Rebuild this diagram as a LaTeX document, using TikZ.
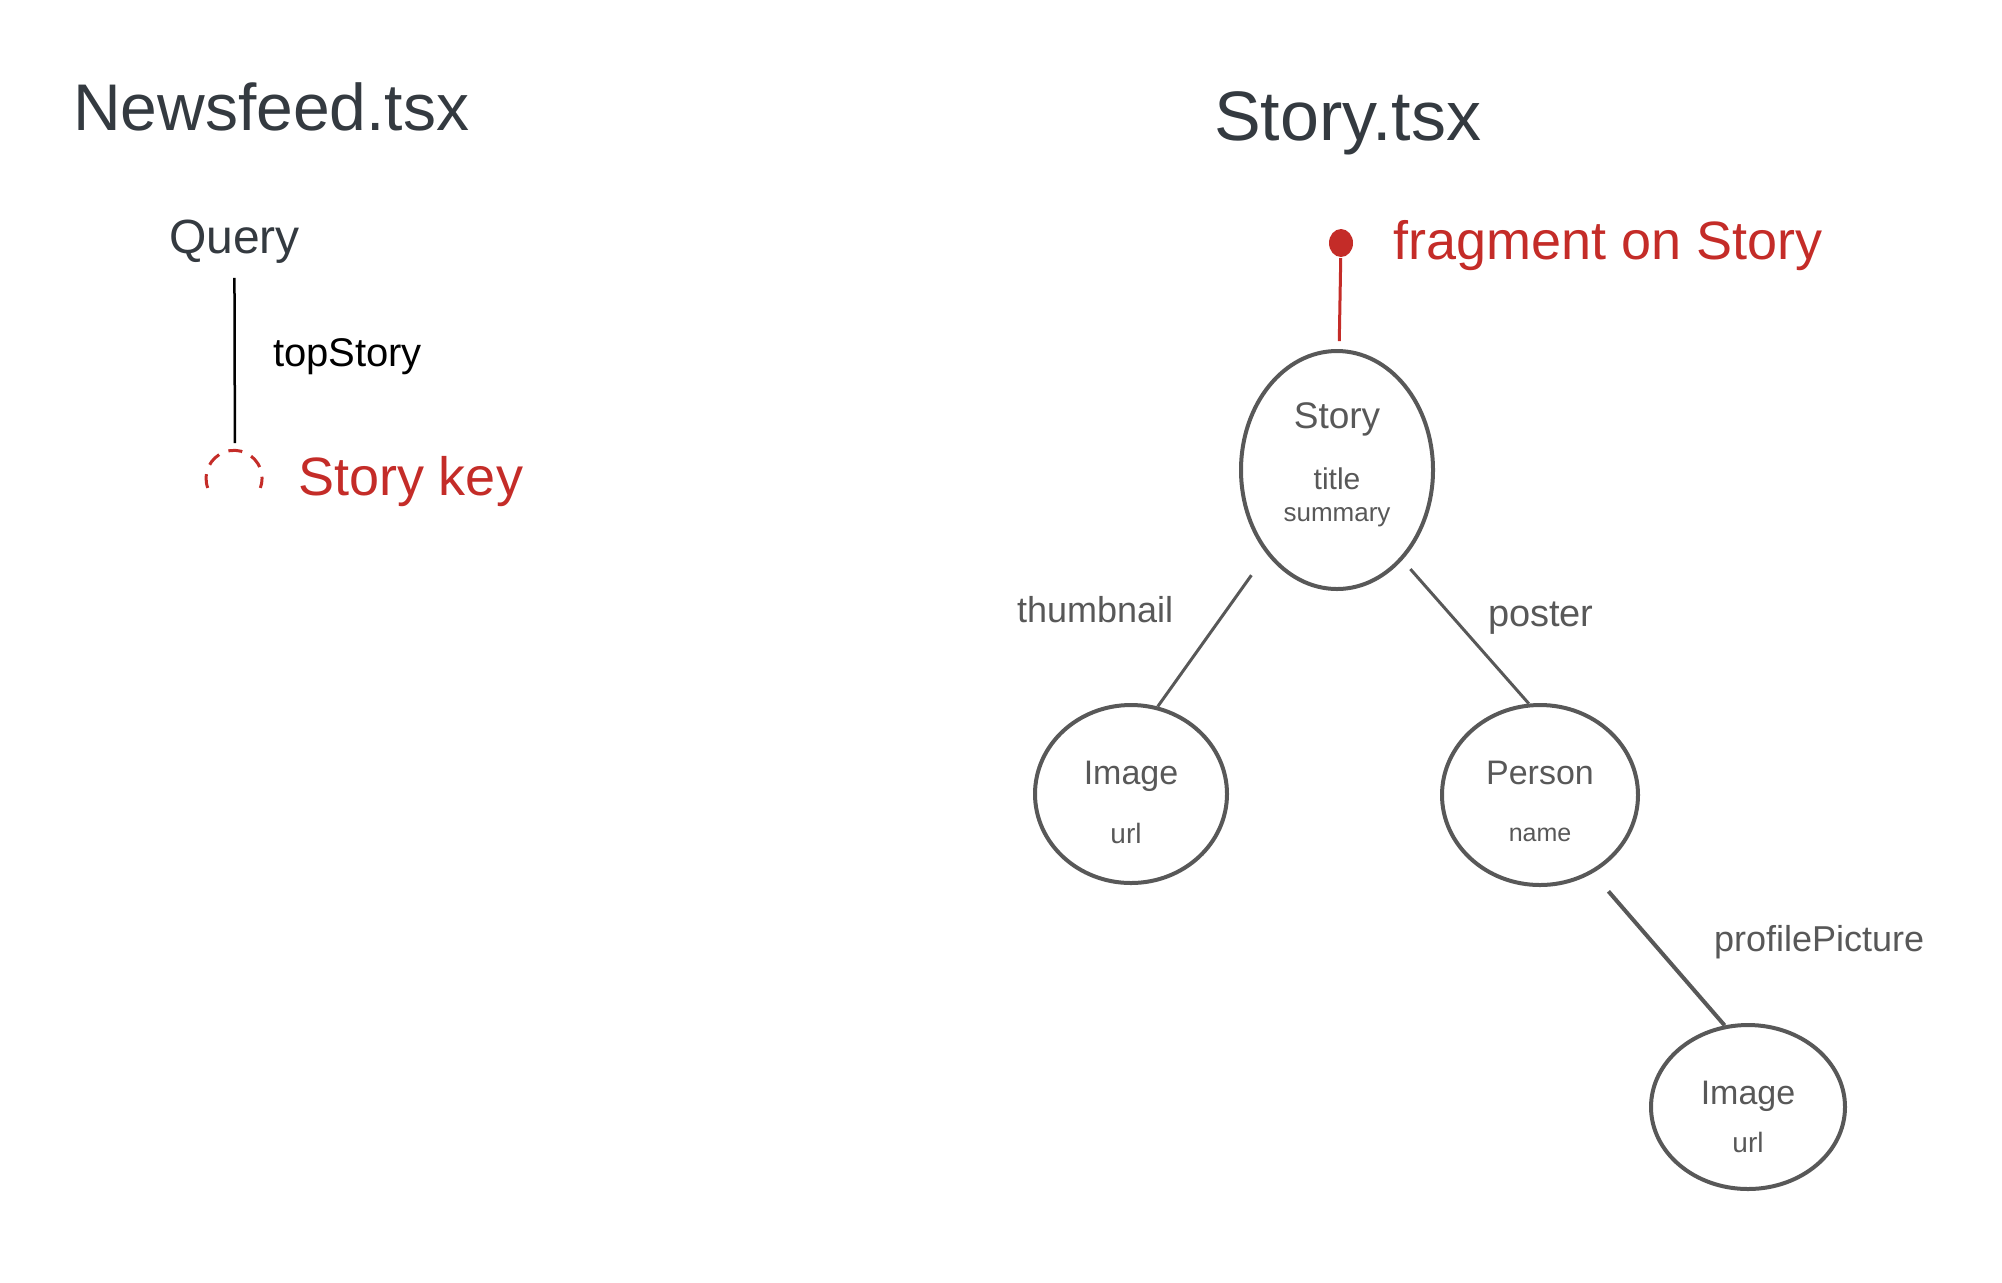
\documentclass[tikz,border=0pt]{standalone}
\usepackage{fontspec}
\setmainfont{Liberation Sans}
\usepackage{tikz}
\usetikzlibrary{shapes.geometric}
\usetikzlibrary{positioning}
\definecolor{inkdark}{RGB}{52,58,64}
\definecolor{inkred}{RGB}{196,44,40}
\definecolor{inkgray}{RGB}{88,88,88}
\tikzset{every picture/.style={line width=1pt},
filelabel/.style={anchor=base west, inner sep=0pt, text=inkdark, font=\fontsize{33}{38}\selectfont},
redlabel/.style={anchor=base west, inner sep=0pt, text=inkred, font=\fontsize{27}{32}\selectfont},
edgelabel/.style={anchor=base west, inner sep=0pt, text=inkgray, font=\fontsize{18}{22}\selectfont},
typenode/.style={ellipse, draw=inkgray, line width=2pt, inner sep=0pt},
typename/.style={anchor=base, inner sep=0pt, text=inkgray, font=\fontsize{17}{20}\selectfont},
fieldname/.style={anchor=base, inner sep=0pt, text=inkgray, font=\fontsize{14}{17}\selectfont},
edge/.style={draw=inkgray, line width=1.5pt}}
\begin{document}
\begin{tikzpicture}[x=0.5pt,y=-0.5pt]
\useasboundingbox (0,0) rectangle (2002,1282);

\node (newsfeed) [filelabel] at (72,130) {Newsfeed.tsx};
\node (storyfile) [filelabel, font=\fontsize{35}{40}\selectfont] at (1213,140) {Story.tsx};

\node (query) [filelabel, font=\fontsize{24}{28}\selectfont] at (168,253) {Query};
\node (key) [circle, minimum size=28pt, inner sep=0pt] at (235,478) {};
\draw [inkred, line width=1.5pt, dash pattern=on 7pt off 5pt] (key.200) arc[start angle=200, end angle=-20, radius=14pt];
\draw [black, line width=1.25pt, shorten <=7pt, shorten >=3pt] (query) -- (key);
\node (topstory) [edgelabel, text=black, font=\fontsize{20}{24}\selectfont] at (272,366) {topStory};
\node (storykey) [redlabel] at (297,495) {Story key};

\node (fragdot) [ellipse, fill=inkred, minimum width=12pt, minimum height=14pt, inner sep=0pt] at (1341,243) {};
\node (fragment) [redlabel] at (1392,259) {fragment on Story};

\node (story) [typenode, minimum width=96pt, minimum height=119pt] at (1337,470) {};
\node (storyname) [typename, font=\fontsize{18.5}{22}\selectfont] at (1337,428) {Story};
\node (storytitle) [fieldname, font=\fontsize{15}{18}\selectfont] at (1337,489) {title};
\node (storysummary) [fieldname, font=\fontsize{13}{16}\selectfont] at (1337,521) {summary};
\draw [inkred, line width=1.5pt, shorten >=4pt] (fragdot) -- (story);

\node (image) [typenode, minimum width=96pt, minimum height=89pt] at (1131,794) {};
\node (imagename) [typename] at (1131,784) {Image};
\node (imageurl) [fieldname] at (1126,843) {url};

\node (person) [typenode, minimum width=98pt, minimum height=90pt] at (1540,795) {};
\node (personname) [typename] at (1540,784) {Person};
\node (personfield) [fieldname, font=\fontsize{12.5}{15}\selectfont] at (1540,841) {name};

\node (picture) [typenode, minimum width=97pt, minimum height=82pt] at (1748,1107) {};
\node (picturename) [typename] at (1748,1104) {Image};
\node (pictureurl) [fieldname] at (1748,1152) {url};

\draw [edge, shorten <=13pt] (story.230) -- (image.73);
\draw [edge, shorten <=6pt] (story.306) -- (person.97);
\draw [edge, line width=2pt, shorten <=12pt] (person.304) -- (picture.106);

\node (thumblabel) [edgelabel] at (1016,622) {thumbnail};
\node (posterlabel) [edgelabel, font=\fontsize{19}{23}\selectfont] at (1487,626) {poster};
\node (profilelabel) [edgelabel] at (1713,951) {profilePicture};
\end{tikzpicture}
\end{document}
